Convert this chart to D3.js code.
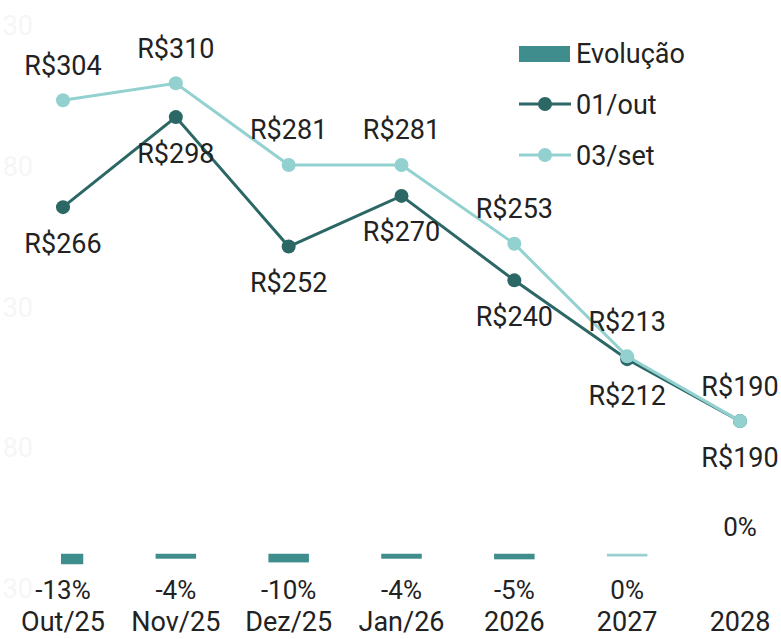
<!DOCTYPE html>
<html><head><meta charset="utf-8">
<script src="https://cdn.jsdelivr.net/npm/d3@7"></script>
<style>html,body{margin:0;padding:0;background:#fff;}svg{display:block;font-family:Roboto,sans-serif;}</style>
</head><body><svg id="c" width="781" height="639"></svg>
<script>
const categories = ["Out/25","Nov/25","Dez/25","Jan/26","2026","2027","2028"];
const serieOut = [266,298,252,270,240,212,190];
const serieSet = [304,310,281,281,253,213,190];
const evolucao = [-13,-4,-10,-4,-5,-0.4,0];
const yTicks = [330,280,230,180,130];
const legendItems = ["Evolução","01/out","03/set"];

const W=781,H=639;
const svg=d3.select("#c");
const cDark="#2b6765", cLight="#93d1d1", cBar="#3f8e8d", cBarLight="#9ccfcf";
const x=d3.scalePoint().domain(categories).range([63,740]);
const y=d3.scaleLinear().domain([130,330]).range([590,27]);
const yb=d3.scaleLinear().domain([0,-13]).range([555,563]);

// faint axis labels (only the part that falls inside the page is visible)
svg.append("g").selectAll("text").data(yTicks).join("text")
  .attr("x",33).attr("y",d=>y(d)).attr("dy","0.3em").attr("text-anchor","end")
  .attr("font-size",27).attr("fill","#f6f6f6").text(d=>String(d).slice(-2));

// bars (clipped to plot area)
svg.append("clipPath").attr("id","pc").append("rect").attr("x",61).attr("y",0).attr("width",680).attr("height",H);
const bw=38;
svg.append("g").attr("clip-path","url(#pc)").selectAll("rect").data(evolucao.map((v,i)=>({v,c:categories[i]})).filter(d=>d.v!==0)).join("rect")
  .attr("x",d=>x(d.c)-bw/2).attr("width",bw)
  .attr("y",yb(0)).attr("height",d=>Math.max(0,yb(d.v)-yb(0)))
  .attr("fill",d=>Math.abs(d.v)<1?cBarLight:cBar)
  .attr("stroke",d=>Math.abs(d.v)<1?cBarLight:cBar).attr("stroke-width",2.5);

// bar labels
svg.append("g").selectAll("text").data(evolucao.map((v,i)=>({v,c:categories[i]}))).join("text")
  .attr("x",d=>x(d.c)).attr("y",d=>d.v===0?527:590).attr("dy","0.35em").attr("text-anchor","middle")
  .attr("font-size",26).attr("fill","#222").text(d=>Math.round(d.v)+"%");

// category labels
svg.append("g").selectAll("text").data(categories).join("text")
  .attr("x",d=>x(d)).attr("y",622).attr("dy","0.35em").attr("text-anchor","middle")
  .attr("font-size",27).attr("fill","#222").text(d=>d);

function drawLine(vals,color){
  const pts=vals.map((v,i)=>[x(categories[i]),y(v),v]);
  svg.append("path").datum(pts).attr("d",d3.line().x(d=>d[0]).y(d=>d[1]))
    .attr("fill","none").attr("stroke",color).attr("stroke-width",3);
  svg.append("g").selectAll("circle").data(pts).join("circle")
    .attr("cx",d=>d[0]).attr("cy",d=>d[1]).attr("r",7).attr("fill",color);
  return pts;
}
const pOut=drawLine(serieOut,cDark);
const pSet=drawLine(serieSet,cLight);
svg.append("g").selectAll("text").data(pSet).join("text")
  .attr("x",d=>d[0]).attr("y",d=>d[1]-35).attr("dy","0.35em").attr("text-anchor","middle")
  .attr("font-size",27).attr("fill","#222").text(d=>"R$"+d[2]);
svg.append("g").selectAll("text").data(pOut).join("text")
  .attr("x",d=>d[0]).attr("y",d=>d[1]+36).attr("dy","0.35em").attr("text-anchor","middle")
  .attr("font-size",27).attr("fill","#222").text(d=>"R$"+d[2]);

// legend
const lg=svg.append("g");
lg.append("rect").attr("x",519).attr("y",46).attr("width",51).attr("height",16).attr("fill",cBar);
[cDark,cLight].forEach((c,i)=>{
  const yy=104+i*51;
  lg.append("line").attr("x1",519).attr("x2",571).attr("y1",yy).attr("y2",yy).attr("stroke",c).attr("stroke-width",3);
  lg.append("circle").attr("cx",545).attr("cy",yy).attr("r",7).attr("fill",c);
});
lg.selectAll("text").data(legendItems).join("text")
  .attr("x",576).attr("y",(d,i)=>54+i*51).attr("dy","0.35em")
  .attr("font-size",27).attr("fill","#222").text(d=>d);
</script></body></html>
